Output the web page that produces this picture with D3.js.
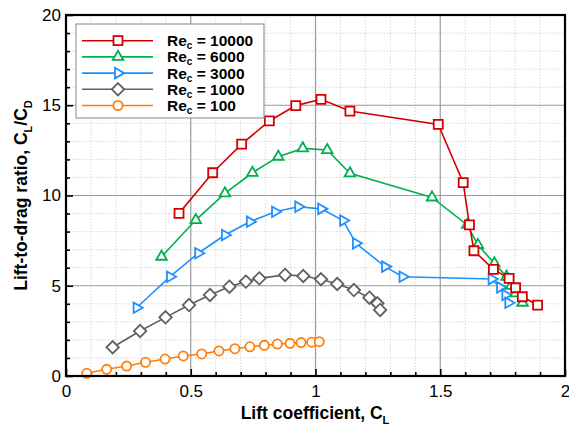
<!DOCTYPE html>
<html>
<head>
<meta charset="utf-8">
<script src="https://cdn.jsdelivr.net/npm/d3@7"></script>
<style>
  html, body { margin: 0; padding: 0; background: #fff; }
  svg { display: block; font-family: "Liberation Sans", Arial, sans-serif; }
</style>
</head>
<body>
<svg id="chart" width="569" height="428"></svg>
<script>
// Lift-to-drag ratio versus lift coefficient for five chord Reynolds numbers
const seriesNames = ["10000", "6000", "3000", "1000", "100"];

const re10000CL = [0.453, 0.588, 0.704, 0.815, 0.921, 1.022, 1.138, 1.492, 1.592, 1.617, 1.635, 1.713, 1.776, 1.802, 1.829, 1.890];
const re10000LD = [9.01, 11.26, 12.85, 14.13, 14.98, 15.33, 14.68, 13.94, 10.71, 8.37, 6.94, 5.91, 5.41, 4.89, 4.39, 3.93];

const re6000CL = [0.383, 0.520, 0.637, 0.747, 0.851, 0.949, 1.047, 1.138, 1.467, 1.608, 1.651, 1.717, 1.766, 1.784, 1.802, 1.830];
const re6000LD = [6.61, 8.64, 10.12, 11.26, 12.15, 12.61, 12.52, 11.23, 9.89, 8.37, 7.26, 6.24, 5.50, 4.99, 4.58, 4.06];

const re3000CL = [0.283, 0.417, 0.530, 0.637, 0.737, 0.838, 0.931, 1.023, 1.111, 1.162, 1.279, 1.349, 1.706, 1.740, 1.761, 1.773];
const re3000LD = [3.78, 5.50, 6.80, 7.81, 8.55, 9.10, 9.38, 9.26, 8.61, 7.35, 6.06, 5.50, 5.37, 4.91, 4.49, 4.06];

const re1000CL = [0.187, 0.297, 0.399, 0.493, 0.577, 0.655, 0.721, 0.775, 0.878, 0.951, 1.022, 1.087, 1.154, 1.216, 1.248, 1.259];
const re1000LD = [1.59, 2.49, 3.25, 3.93, 4.49, 4.95, 5.23, 5.41, 5.60, 5.54, 5.36, 5.10, 4.76, 4.34, 4.03, 3.66];

const re100CL = [0.083, 0.163, 0.243, 0.319, 0.397, 0.470, 0.544, 0.613, 0.677, 0.737, 0.795, 0.847, 0.898, 0.942, 0.985, 1.015];
const re100LD = [0.15, 0.37, 0.55, 0.76, 0.94, 1.11, 1.22, 1.39, 1.51, 1.62, 1.70, 1.77, 1.81, 1.85, 1.87, 1.90];

const xTicks = [0, 0.5, 1, 1.5, 2];
const yTicks = [0, 5, 10, 15, 20];
const xTickLabels = ["0", "0.5", "1", "1.5", "2"];
const yTickLabels = ["0", "5", "10", "15", "20"];

const styles = [
  { color: "#d40000", marker: "square" },
  { color: "#00b050", marker: "triangleUp" },
  { color: "#1e90ff", marker: "triangleRight" },
  { color: "#606060", marker: "diamond" },
  { color: "#ff7f0e", marker: "circle" }
];

const seriesData = [
  [re10000CL, re10000LD],
  [re6000CL, re6000LD],
  [re3000CL, re3000LD],
  [re1000CL, re1000LD],
  [re100CL, re100LD]
].map(([xs, ys]) => xs.map((x, i) => ({ x, y: ys[i] })));

const svg = d3.select("#chart");
const margin = { left: 66, right: 4, top: 15, bottom: 52 };
const W = 569, H = 428;
const x = d3.scaleLinear().domain([0, 2]).range([margin.left, W - margin.right]);
const y = d3.scaleLinear().domain([0, 20]).range([H - margin.bottom, margin.top]);

// minor grid (dotted)
const grid = svg.append("g");
const xMinor = d3.range(0.1, 2.0001, 0.1).filter(v => Math.abs(v * 2 - Math.round(v * 2)) > 1e-6);
const yMinor = d3.range(1, 20, 1).filter(v => v % 5 !== 0);
grid.selectAll(".xm").data(xMinor).join("line")
  .attr("x1", d => x(d)).attr("x2", d => x(d))
  .attr("y1", y(0)).attr("y2", y(20))
  .attr("stroke", "#cfcfcf").attr("stroke-width", 0.8).attr("stroke-dasharray", "1.5,1.5");
grid.selectAll(".ym").data(yMinor).join("line")
  .attr("x1", x(0)).attr("x2", x(2))
  .attr("y1", d => y(d)).attr("y2", d => y(d))
  .attr("stroke", "#cfcfcf").attr("stroke-width", 0.8).attr("stroke-dasharray", "1.5,1.5");
// major grid
grid.selectAll(".xM").data(xTicks.slice(1, -1)).join("line")
  .attr("x1", d => x(d)).attr("x2", d => x(d))
  .attr("y1", y(0)).attr("y2", y(20))
  .attr("stroke", "#9a9a9a").attr("stroke-width", 1.2);
grid.selectAll(".yM").data(yTicks.slice(1, -1)).join("line")
  .attr("x1", x(0)).attr("x2", x(2))
  .attr("y1", d => y(d)).attr("y2", d => y(d))
  .attr("stroke", "#9a9a9a").attr("stroke-width", 1.2);

// axes with inward ticks
const xAxisMajor = d3.axisBottom(x).tickValues(xTicks).tickSizeInner(-7).tickSizeOuter(0)
  .tickFormat((d, i) => xTickLabels[i]);
const xAxisMinor = d3.axisBottom(x).tickValues(xMinor).tickSizeInner(-4).tickSizeOuter(0).tickFormat("");
const yAxisMajor = d3.axisLeft(y).tickValues(yTicks).tickSizeInner(-7).tickSizeOuter(0)
  .tickFormat((d, i) => yTickLabels[i]);
const yAxisMinor = d3.axisLeft(y).tickValues(yMinor).tickSizeInner(-4).tickSizeOuter(0).tickFormat("");

function styleAxis(g) {
  g.select(".domain").remove();
  g.selectAll("line").attr("stroke", "#000").attr("stroke-width", 1.6);
  g.selectAll("text").attr("fill", "#000").style("font-size", "17px")
    .style("font-family", "'Liberation Sans', Arial, sans-serif");
}
svg.append("g").attr("transform", `translate(0,${y(0)})`).call(xAxisMinor).call(styleAxis);
svg.append("g").attr("transform", `translate(0,${y(0)})`).call(xAxisMajor).call(styleAxis)
  .selectAll("text").attr("dy", "0.95em").attr("y", 5);
svg.append("g").attr("transform", `translate(${x(0)},0)`).call(yAxisMinor).call(styleAxis);
svg.append("g").attr("transform", `translate(${x(0)},0)`).call(yAxisMajor).call(styleAxis)
  .selectAll("text").attr("x", -5);

// marker shapes
const symbolPaths = {
  square: d3.symbol().type(d3.symbolSquare).size(81)(),
  triangleUp: d3.symbol().type(d3.symbolTriangle).size(48)(),
  diamond: "M0,-6.2L6.2,0L0,6.2L-6.2,0Z",
  circle: d3.symbol().type(d3.symbolCircle).size(66)()
};
function addMarker(g, kind, color, tx, ty) {
  const p = g.append("path").attr("fill", "#fff").attr("stroke", color).attr("stroke-width", 1.8);
  if (kind === "triangleRight") {
    p.attr("d", symbolPaths.triangleUp).attr("transform", `translate(${tx},${ty}) rotate(90)`);
  } else {
    p.attr("d", symbolPaths[kind]).attr("transform", `translate(${tx},${ty})`);
  }
}

// series lines and markers, lowest Re first so higher Re series sit on top
const line = d3.line().x(d => x(d.x)).y(d => y(d.y));
const plot = svg.append("g");
for (let s = seriesData.length - 1; s >= 0; s--) {
  const st = styles[s];
  const g = plot.append("g");
  g.append("path").datum(seriesData[s]).attr("d", line)
    .attr("fill", "none").attr("stroke", st.color).attr("stroke-width", 1.6);
  seriesData[s].forEach(d => addMarker(g, st.marker, st.color, x(d.x), y(d.y)));
}

// frame
svg.append("rect")
  .attr("x", x(0)).attr("y", y(20))
  .attr("width", x(2) - x(0)).attr("height", y(0) - y(20))
  .attr("fill", "none").attr("stroke", "#000").attr("stroke-width", 2.2);

// legend
const legend = svg.append("g");
legend.append("rect").attr("x", 76).attr("y", 24).attr("width", 188).attr("height", 94)
  .attr("fill", "#fff").attr("stroke", "#9a9a9a").attr("stroke-width", 1.2);
seriesNames.forEach((name, i) => {
  const st = styles[i];
  const cy = 40.7 + i * 16.2;
  const row = legend.append("g");
  row.append("line").attr("x1", 82).attr("x2", 153).attr("y1", cy).attr("y2", cy)
    .attr("stroke", st.color).attr("stroke-width", 1.6);
  addMarker(row, st.marker, st.color, 118, cy);
  const t = row.append("text").attr("x", 167).attr("y", cy + 5.5)
    .style("font-size", "15.5px").style("font-weight", "bold").attr("fill", "#000");
  t.append("tspan").text("Re");
  t.append("tspan").text("c").style("font-size", "10px").attr("dy", 3);
  t.append("tspan").text(" = " + name).attr("dy", -3);
});

// axis titles
const xt = svg.append("text").attr("x", 315).attr("y", 419).attr("text-anchor", "middle")
  .style("font-size", "17.5px").style("font-weight", "bold").attr("fill", "#000");
xt.append("tspan").text("Lift coefficient, C");
xt.append("tspan").text("L").style("font-size", "11px").attr("dy", 5);

const yt = svg.append("text").attr("transform", `translate(27,${(y(0) + y(20)) / 2}) rotate(-90)`)
  .attr("text-anchor", "middle")
  .style("font-size", "17.5px").style("font-weight", "bold").attr("fill", "#000");
yt.append("tspan").text("Lift-to-drag ratio, C");
yt.append("tspan").text("L").style("font-size", "11px").attr("dy", 5);
yt.append("tspan").text("/C").attr("dy", -5);
yt.append("tspan").text("D").style("font-size", "11px").attr("dy", 5);
</script>
</body>
</html>
